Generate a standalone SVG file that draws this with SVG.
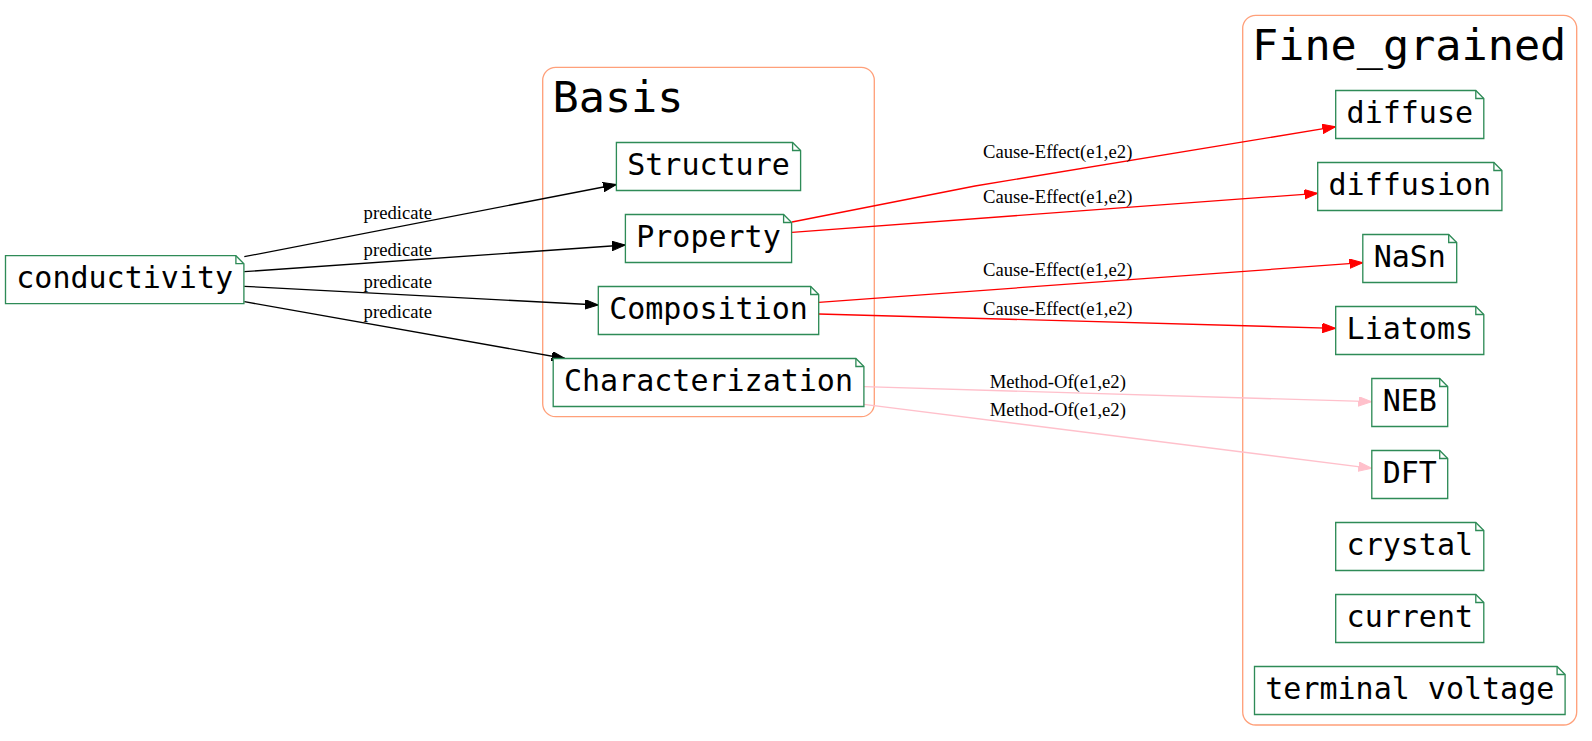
<svg xmlns="http://www.w3.org/2000/svg" width="1592" height="741" viewBox="0 0 1592 741">
<style>
.bg{fill:#ffffff}
.cluster{fill:none;stroke:#ffa07a;stroke-width:1.33}
.clabel{font-family:"DejaVu Sans Mono",monospace;font-size:43.5px;fill:#000}
.note{fill:#ffffff;stroke:#2e8b57;stroke-width:1.33}
.fold{fill:none;stroke:#2e8b57;stroke-width:1.33}
.ntext{font-family:"DejaVu Sans Mono",monospace;font-size:30px;fill:#000;text-anchor:middle}
.elabel{font-family:"Liberation Serif","Times New Roman",serif;font-size:18.67px;fill:#000;text-anchor:middle}
.e{fill:none;stroke-width:1.33}
.blk{stroke:#000}
.red{stroke:#ff0000}
.pink{stroke:#ffc0cb}
</style>
<defs>
<marker id="aBlk" markerUnits="userSpaceOnUse" markerWidth="14" markerHeight="10" refX="13.3" refY="4.7" orient="auto"><path d="M0,0 L13.3,4.7 L0,9.4 Z" fill="#000" stroke="#000" stroke-width="1"/></marker>
<marker id="aRed" markerUnits="userSpaceOnUse" markerWidth="14" markerHeight="10" refX="13.3" refY="4.7" orient="auto"><path d="M0,0 L13.3,4.7 L0,9.4 Z" fill="#ff0000" stroke="#ff0000" stroke-width="1"/></marker>
<marker id="aPink" markerUnits="userSpaceOnUse" markerWidth="14" markerHeight="10" refX="13.3" refY="4.7" orient="auto"><path d="M0,0 L13.3,4.7 L0,9.4 Z" fill="#ffc0cb" stroke="#ffc0cb" stroke-width="1"/></marker>
</defs>
<rect class="bg" x="0" y="0" width="1592" height="741"/>

<g id="cluster_Basis">
<rect class="cluster" x="542.7" y="67.3" width="331.6" height="349.4" rx="13" ry="13"/>
<text class="clabel" x="552.5" y="112">Basis</text>
</g>
<g id="cluster_Fine_grained">
<rect class="cluster" x="1242.7" y="15.3" width="334" height="709.7" rx="13" ry="13"/>
<text class="clabel" x="1252" y="60">Fine_grained</text>
</g>

<g id="connectors">
<path class="e blk" d="M244.3,256.7 L616.4,184.5" marker-end="url(#aBlk)"/>
<path class="e blk" d="M244.3,271.7 L625.4,245" marker-end="url(#aBlk)"/>
<path class="e blk" d="M244.3,286.3 L598.3,305" marker-end="url(#aBlk)"/>
<path class="e blk" d="M244.3,301.7 L565,358.5" marker-end="url(#aBlk)"/>
<text class="elabel" x="397.8" y="219.3">predicate</text>
<text class="elabel" x="397.8" y="256">predicate</text>
<text class="elabel" x="397.8" y="288.3">predicate</text>
<text class="elabel" x="397.8" y="317.7">predicate</text>

<path class="e red" d="M792,222 L975,186 L1335.7,126.7" marker-end="url(#aRed)"/>
<path class="e red" d="M792,232.3 L1317.7,193.3" marker-end="url(#aRed)"/>
<path class="e red" d="M818.7,302.3 L1362.8,262.7" marker-end="url(#aRed)"/>
<path class="e red" d="M818.7,314 L1335.7,328.3" marker-end="url(#aRed)"/>
<text class="elabel" x="1057.7" y="158.3">Cause-Effect(e1,e2)</text>
<text class="elabel" x="1057.7" y="203.3">Cause-Effect(e1,e2)</text>
<text class="elabel" x="1057.7" y="275.7">Cause-Effect(e1,e2)</text>
<text class="elabel" x="1057.7" y="315">Cause-Effect(e1,e2)</text>

<path class="e pink" d="M864,386.7 L1371.8,401.7" marker-end="url(#aPink)"/>
<path class="e pink" d="M864,404.3 L1371.8,468.3" marker-end="url(#aPink)"/>
<text class="elabel" x="1057.8" y="387.7">Method-Of(e1,e2)</text>
<text class="elabel" x="1057.8" y="415.7">Method-Of(e1,e2)</text>
</g>

<g id="node_conductivity">
<path class="note" d="M5.5,255.7 H235.9 L243.9,263.7 V303.7 H5.5 Z"/>
<path class="fold" d="M235.9,255.7 V263.7 H243.9"/>
<text class="ntext" x="124.7" y="287.7">conductivity</text>
</g>

<g id="node_Structure">
<path class="note" d="M616.4,142.5 H792.6 L800.6,150.5 V190.5 H616.4 Z"/>
<path class="fold" d="M792.6,142.5 V150.5 H800.6"/>
<text class="ntext" x="708.5" y="174.5">Structure</text>
</g>
<g id="node_Property">
<path class="note" d="M625.4,214.5 H783.6 L791.6,222.5 V262.5 H625.4 Z"/>
<path class="fold" d="M783.6,214.5 V222.5 H791.6"/>
<text class="ntext" x="708.5" y="246.5">Property</text>
</g>
<g id="node_Composition">
<path class="note" d="M598.3,286.5 H810.7 L818.7,294.5 V334.5 H598.3 Z"/>
<path class="fold" d="M810.7,286.5 V294.5 H818.7"/>
<text class="ntext" x="708.5" y="318.5">Composition</text>
</g>
<g id="node_Characterization">
<path class="note" d="M553.2,358.5 H855.9 L863.9,366.5 V406.5 H553.2 Z"/>
<path class="fold" d="M855.9,358.5 V366.5 H863.9"/>
<text class="ntext" x="708.5" y="390.5">Characterization</text>
</g>

<g id="node_diffuse">
<path class="note" d="M1335.7,90.5 H1475.8 L1483.8,98.5 V138.5 H1335.7 Z"/>
<path class="fold" d="M1475.8,90.5 V98.5 H1483.8"/>
<text class="ntext" x="1409.8" y="122.5">diffuse</text>
</g>
<g id="node_diffusion">
<path class="note" d="M1317.7,162.5 H1493.9 L1501.9,170.5 V210.5 H1317.7 Z"/>
<path class="fold" d="M1493.9,162.5 V170.5 H1501.9"/>
<text class="ntext" x="1409.8" y="194.5">diffusion</text>
</g>
<g id="node_NaSn">
<path class="note" d="M1362.8,234.5 H1448.7 L1456.7,242.5 V282.5 H1362.8 Z"/>
<path class="fold" d="M1448.7,234.5 V242.5 H1456.7"/>
<text class="ntext" x="1409.8" y="266.5">NaSn</text>
</g>
<g id="node_Liatoms">
<path class="note" d="M1335.7,306.5 H1475.8 L1483.8,314.5 V354.5 H1335.7 Z"/>
<path class="fold" d="M1475.8,306.5 V314.5 H1483.8"/>
<text class="ntext" x="1409.8" y="338.5">Liatoms</text>
</g>
<g id="node_NEB">
<path class="note" d="M1371.8,378.5 H1439.7 L1447.7,386.5 V426.5 H1371.8 Z"/>
<path class="fold" d="M1439.7,378.5 V386.5 H1447.7"/>
<text class="ntext" x="1409.8" y="410.5">NEB</text>
</g>
<g id="node_DFT">
<path class="note" d="M1371.8,450.5 H1439.7 L1447.7,458.5 V498.5 H1371.8 Z"/>
<path class="fold" d="M1439.7,450.5 V458.5 H1447.7"/>
<text class="ntext" x="1409.8" y="482.5">DFT</text>
</g>
<g id="node_crystal">
<path class="note" d="M1335.7,522.5 H1475.8 L1483.8,530.5 V570.5 H1335.7 Z"/>
<path class="fold" d="M1475.8,522.5 V530.5 H1483.8"/>
<text class="ntext" x="1409.8" y="554.5">crystal</text>
</g>
<g id="node_current">
<path class="note" d="M1335.7,594.5 H1475.8 L1483.8,602.5 V642.5 H1335.7 Z"/>
<path class="fold" d="M1475.8,594.5 V602.5 H1483.8"/>
<text class="ntext" x="1409.8" y="626.5">current</text>
</g>
<g id="node_terminal_voltage">
<path class="note" d="M1254.5,666.5 H1557.1 L1565.1,674.5 V714.5 H1254.5 Z"/>
<path class="fold" d="M1557.1,666.5 V674.5 H1565.1"/>
<text class="ntext" x="1409.8" y="698.5">terminal voltage</text>
</g>
</svg>
